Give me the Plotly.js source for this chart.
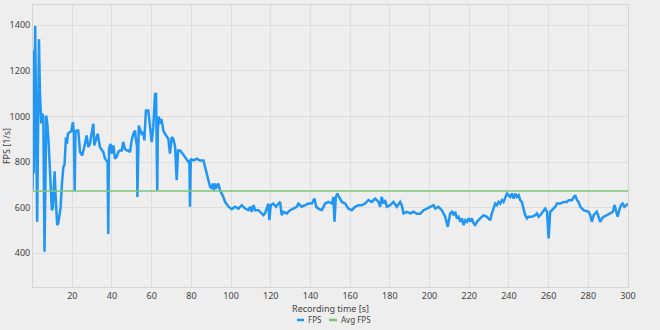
<!DOCTYPE html>
<html>
<head>
<meta charset="utf-8">
<script src="https://cdn.plot.ly/plotly-3.0.1.min.js"></script>
<style>html,body{margin:0;padding:0;background:#eeeeee;}#chart{width:660px;height:330px;}</style>
</head>
<body>
<div id="chart"></div>
<script>
const time = [0, 0.3, 0.6, 1.3, 2.3, 3.2, 3.7, 4.4, 4.9, 5.4, 6.0, 6.9, 7.4, 8.1, 8.9, 9.7, 10.2, 10.7, 11.1, 11.6,
  12.4, 12.9, 13.6, 14.1, 14.8, 15.5, 16.1, 16.8, 17.3, 17.8, 18.5, 19.5, 20.3, 20.8, 21.2, 21.6, 22.3, 23.0, 23.9, 25.0,
  26.4, 27.2, 28.1, 28.9, 29.7, 30.6, 31.1, 31.9, 32.8, 33.9, 34.8, 35.6, 36.5, 37.3, 37.8, 38.1, 38.5, 39.3, 39.8, 40.7,
  41.5, 42.3, 43.2, 44.0, 44.9, 45.7, 46.5, 47.4, 48.2, 49.1, 49.9, 50.8, 51.6, 52.1, 52.6, 52.8, 53.1, 53.5, 54.1, 54.9,
  55.8, 56.3, 57.1, 58.3, 59.2, 60.0, 60.8, 61.7, 62.2, 62.5, 62.8, 63.1, 63.6, 64.2, 64.9, 65.9, 66.7, 68.4, 69.2, 70.1,
  70.9, 71.8, 72.6, 73.3, 74.3, 75.6, 77.3, 78.5, 79.0, 79.3, 79.7, 81.0, 82.7, 84.4, 86.1, 86.9, 87.7, 88.6, 89.4, 90.3,
  90.8, 91.4, 91.9, 92.4, 93.6, 94.4, 95.3, 96.1, 97.0, 98.7, 100.3, 102.0, 103.7, 105.4, 107.1, 108.7, 109.6, 110.4, 111.3, 112.1,
  113.8, 115.5, 116.3, 117.1, 118.0, 118.8, 119.3, 120.0, 121.3, 122.7, 123.9, 124.7, 125.5, 126.4, 128.1, 129.7, 131.4, 133.1, 133.9, 135.6,
  137.3, 139.0, 140.7, 142.0, 142.9, 144.0, 145.7, 147.4, 149.1, 150.8, 151.6, 152.1, 152.8, 153.6, 154.4, 155.8, 157.5, 159.1, 160.8, 162.5,
  164.2, 165.9, 167.5, 169.2, 170.9, 172.6, 174.3, 175.1, 175.9, 176.8, 177.6, 178.5, 180.2, 181.8, 183.5, 185.2, 186.0, 186.9, 188.6, 190.3,
  191.9, 193.6, 195.3, 197.0, 198.7, 200.3, 202.0, 202.9, 204.5, 206.2, 207.9, 209.2, 210.4, 211.3, 212.1, 212.9, 213.8, 214.6, 215.5, 216.3,
  217.1, 218.0, 218.8, 219.7, 220.5, 221.3, 222.2, 223.0, 223.9, 225.5, 227.2, 228.9, 230.6, 231.4, 232.3, 233.1, 234.0, 234.8, 235.6, 236.5,
  237.3, 238.2, 239.0, 239.8, 240.7, 241.5, 242.4, 243.2, 244.0, 244.9, 245.7, 246.5, 247.4, 248.2, 249.1, 249.9, 251.6, 253.3, 254.1, 255.0,
  255.8, 257.5, 258.3, 259.2, 260.0, 260.8, 261.7, 263.4, 264.2, 265.9, 267.6, 269.2, 270.1, 271.7, 273.4, 274.3, 275.1, 276.0, 277.6, 279.3,
  280.1, 281.0, 281.8, 282.7, 283.5, 284.3, 285.2, 286.0, 286.9, 287.7, 289.4, 291.1, 292.4, 293.2, 294.1, 294.8, 295.6, 296.5, 297.3, 298.2,
  299.2, 299.9];
const fps = [680, 1290, 750, 1397, 538, 1339, 1099, 969, 1012, 1000, 407, 1004, 969, 882, 735, 589, 600, 750, 760, 647,
  524, 530, 589, 600, 707, 778, 790, 909, 880, 924, 930, 935, 975, 930, 673, 930, 938, 938, 844, 829,
  880, 917, 866, 880, 924, 968, 873, 893, 924, 866, 851, 844, 815, 808, 800, 485, 860, 880, 837, 873,
  815, 822, 844, 851, 851, 888, 858, 851, 851, 844, 895, 924, 938, 895, 870, 647, 900, 960, 945, 924,
  931, 895, 1026, 1026, 953, 888, 953, 1099, 1099, 953, 676, 940, 1000, 968, 989, 938, 924, 902, 837, 909,
  902, 866, 720, 851, 851, 837, 815, 800, 807, 604, 815, 807, 815, 807, 807, 779, 757, 720, 692, 684,
  706, 676, 706, 684, 706, 677, 662, 647, 625, 604, 593, 604, 596, 611, 596, 589, 604, 582, 611, 589,
  589, 575, 567, 575, 604, 618, 545, 611, 618, 604, 618, 625, 567, 582, 575, 589, 596, 604, 618, 604,
  611, 618, 618, 640, 604, 596, 589, 618, 625, 618, 647, 538, 647, 662, 647, 625, 618, 596, 589, 604,
  611, 611, 618, 633, 625, 640, 625, 604, 647, 618, 633, 604, 611, 625, 604, 625, 611, 575, 582, 575,
  582, 573, 573, 589, 596, 604, 611, 596, 604, 589, 560, 516, 575, 582, 567, 582, 553, 560, 538, 553,
  524, 545, 538, 553, 538, 553, 531, 524, 538, 553, 567, 560, 545, 575, 604, 618, 611, 625, 618, 633,
  625, 647, 662, 655, 647, 662, 640, 662, 647, 655, 633, 625, 589, 567, 553, 560, 560, 567, 575, 560,
  567, 589, 596, 582, 465, 582, 589, 604, 618, 618, 625, 625, 633, 633, 655, 633, 625, 604, 589, 582,
  582, 567, 538, 567, 575, 582, 560, 538, 553, 560, 567, 575, 582, 611, 575, 560, 589, 611, 618, 604,
  611, 618];
const avgTime = [0, 300];
const avgFps = [673, 673];
const xTicks = [20, 40, 60, 80, 100, 120, 140, 160, 180, 200, 220, 240, 260, 280, 300];
const yTicks = [400, 600, 800, 1000, 1200, 1400];
const seriesNames = ['FPS', 'Avg FPS'];
const seriesColors = ['#2196f3', '#7cc576'];

const font = {family: 'Noto Sans, Open Sans, sans-serif', size: 9, color: '#444444'};
const traces = [
  {x: time, y: fps, type: 'scatter', mode: 'lines', name: seriesNames[0],
   line: {color: seriesColors[0], width: 2.5}},
  {x: avgTime, y: avgFps, type: 'scatter', mode: 'lines', name: seriesNames[1],
   line: {color: seriesColors[1], width: 1.5}}
];

// compact legend drawn below the axis title (glyph + label per series)
const legY = -0.117;
const legGlyphs = [[0.4437, 0.4555], [0.4975, 0.511]];
const legText = [0.458, 0.514];
const shapes = legGlyphs.map((g, i) => ({type: 'line', xref: 'paper', yref: 'paper',
  x0: g[0], x1: g[1], y0: legY, y1: legY, line: {color: seriesColors[i], width: 2.5}}));
const annotations = seriesNames.map((n, i) => ({xref: 'paper', yref: 'paper', x: legText[i], y: legY,
  xanchor: 'left', yanchor: 'middle', text: n, showarrow: false,
  font: {family: font.family, size: 8, color: '#444444'}}));

const layout = {
  width: 660, height: 330,
  margin: {l: 33, r: 32, t: 5, b: 43, autoexpand: false},
  paper_bgcolor: '#eeeeee', plot_bgcolor: '#eeeeee',
  font: font,
  showlegend: false,
  shapes: shapes,
  annotations: annotations,
  xaxis: {range: [0.2, 300], tickvals: xTicks, ticktext: xTicks.map(String),
          showgrid: true, gridcolor: '#dedede', gridwidth: 1, zeroline: false,
          showline: true, mirror: true, linecolor: '#d4d4d4', linewidth: 1, ticks: '',
          tickfont: font, automargin: false,
          title: {text: 'Recording time [s]', font: font, standoff: 4}},
  yaxis: {range: [252, 1489], tickvals: yTicks, ticktext: yTicks.map(String),
          showgrid: true, gridcolor: '#dedede', gridwidth: 1, zeroline: false,
          showline: true, mirror: true, linecolor: '#d4d4d4', linewidth: 1, ticks: '',
          tickfont: font, automargin: false,
          title: {text: 'FPS [1/s]', font: font, standoff: 4}}
};
Plotly.newPlot('chart', traces, layout, {displayModeBar: false, staticPlot: true});
</script>
</body>
</html>
